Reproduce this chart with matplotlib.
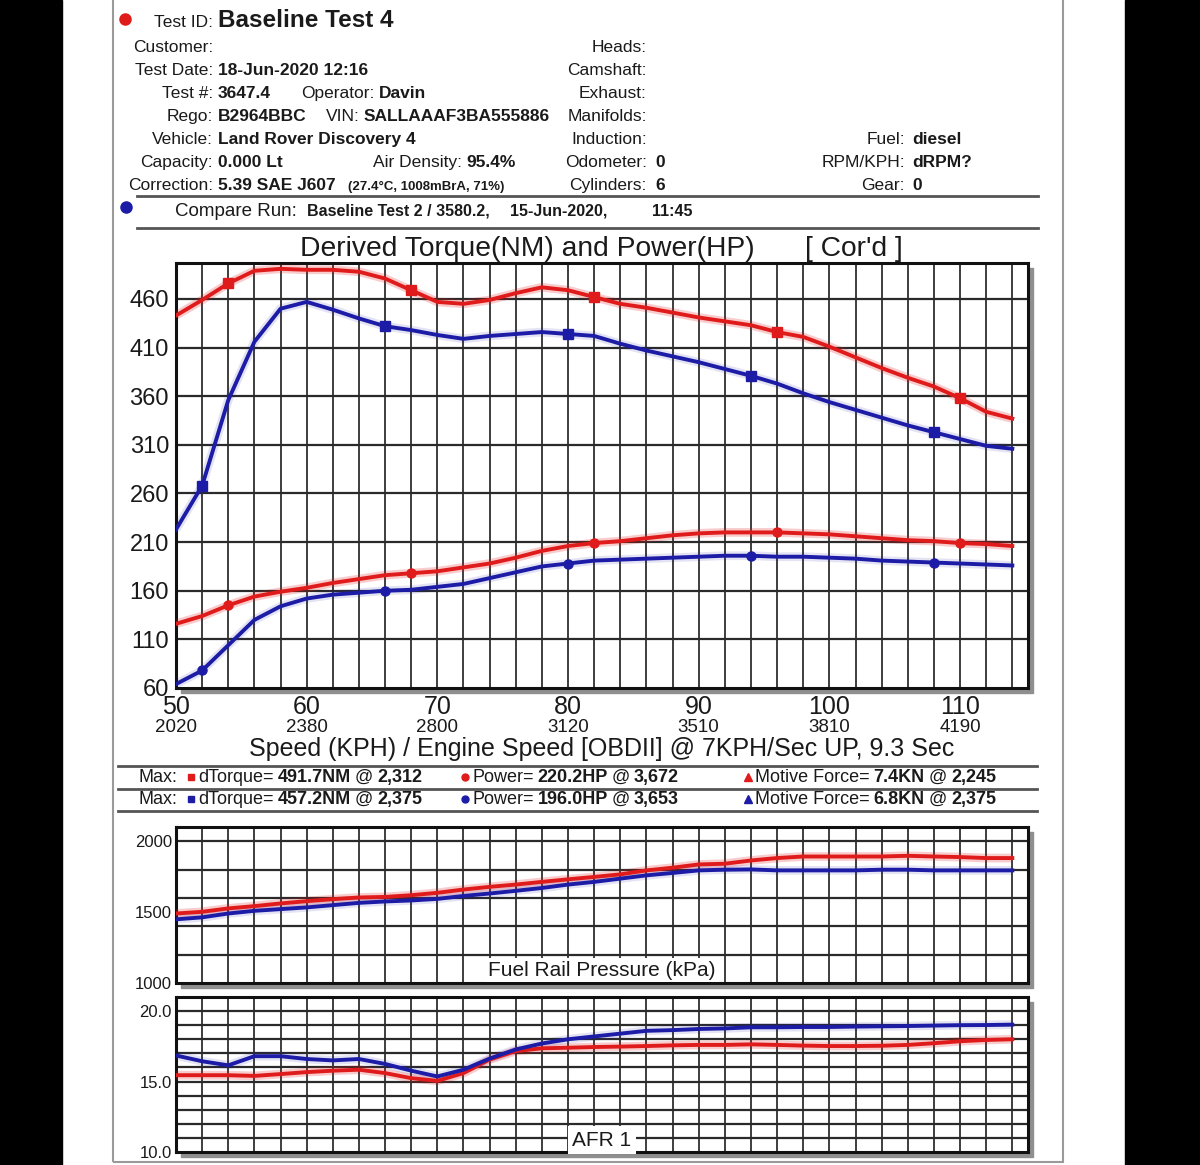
import matplotlib
matplotlib.use('Agg')
import matplotlib.pyplot as plt
from matplotlib.patches import Rectangle
from matplotlib.lines import Line2D
import numpy as np

plt.rcParams['font.family'] = ['Liberation Sans', 'DejaVu Sans']

W, H = 1200, 1165

# ---------------- data ----------------
speed = [50, 52, 54, 56, 58, 60, 62, 64, 66, 68, 70, 72, 74, 76, 78, 80, 82,
         84, 86, 88, 90, 92, 94, 96, 98, 100, 102, 104, 106, 108, 110, 112, 114]

torque_test4 = [443, 459, 476, 489, 491, 490, 490, 488, 481, 469, 457, 455, 459,
                466, 472, 469, 462, 455, 451, 446, 441, 437, 433, 426, 421, 411,
                400, 389, 379, 370, 358, 344, 337]
torque_test2 = [223, 268, 356, 416, 450, 457, 449, 440, 432, 428, 423, 419, 422,
                424, 426, 424, 422, 414, 407, 401, 395, 388, 381, 373, 363, 354,
                346, 338, 330, 323, 316, 309, 306]
power_test4 = [126, 134, 145, 154, 159, 163, 168, 172, 176, 178, 180, 184, 188,
               194, 201, 206, 209, 211, 214, 217, 219, 220, 220, 220, 219, 218,
               216, 214, 212, 211, 209, 208, 206]
power_test2 = [64, 78, 104, 130, 144, 152, 156, 158, 160, 161, 164, 167, 173,
               179, 185, 188, 191, 192, 193, 194, 195, 196, 196, 195, 195, 194,
               193, 191, 190, 189, 188, 187, 186]
frp_test4 = [1490, 1502, 1526, 1542, 1561, 1577, 1591, 1603, 1607, 1619, 1636,
             1659, 1678, 1694, 1713, 1731, 1748, 1766, 1794, 1813, 1836, 1841,
             1864, 1881, 1892, 1892, 1892, 1892, 1897, 1892, 1888, 1881, 1881]
frp_test2 = [1449, 1463, 1490, 1509, 1521, 1533, 1549, 1565, 1575, 1582, 1593,
             1614, 1631, 1650, 1670, 1694, 1713, 1736, 1759, 1776, 1794, 1799,
             1801, 1794, 1794, 1794, 1794, 1799, 1799, 1794, 1794, 1794, 1794]
afr_test4 = [15.45, 15.45, 15.45, 15.4, 15.53, 15.67, 15.77, 15.84, 15.6, 15.24,
             15.05, 15.6, 16.56, 17.16, 17.36, 17.4, 17.45, 17.48, 17.52, 17.57,
             17.6, 17.6, 17.64, 17.6, 17.55, 17.52, 17.52, 17.54, 17.6, 17.72,
             17.86, 17.95, 18.0]
afr_test2 = [16.85, 16.44, 16.15, 16.8, 16.8, 16.6, 16.5, 16.6, 16.25, 15.77,
             15.36, 15.84, 16.63, 17.28, 17.7, 18.0, 18.2, 18.4, 18.6, 18.65,
             18.73, 18.77, 18.85, 18.85, 18.87, 18.87, 18.9, 18.92, 18.94, 18.97,
             19.0, 19.01, 19.04]

speed_ticks = [50, 60, 70, 80, 90, 100, 110]
rpm_ticks = ['2020', '2380', '2800', '3120', '3510', '3810', '4190']
main_yticks = [60, 110, 160, 210, 260, 310, 360, 410, 460]
frp_yticks = [1000, 1500, 2000]
afr_yticks = [10, 15, 20]

max_test4 = ['491.7NM', '2,312', '220.2HP', '3,672', '7.4KN', '2,245']
max_test2 = ['457.2NM', '2,375', '196.0HP', '3,653', '6.8KN', '2,375']

RED = '#e01b1b'
BLUE = '#1c1ca6'
TXT = '#1a1a1a'

fig = plt.figure(figsize=(12, 11.65), dpi=100)
fig.patch.set_facecolor('white')


def fx(x):
    return x / W


def fy(y):
    return 1 - y / H


def rect(l, t, r, b):
    return [fx(l), fy(b), (r - l) / W, (b - t) / H]


def ftext(x, y, s, size=12.5, weight='normal', ha='left', color=TXT, **kw):
    return fig.text(fx(x), fy(y), s, fontsize=size, fontweight=weight, ha=ha,
                    va='baseline', color=color, **kw)


def hline(x0, x1, y, color='#555555', lw=2.0):
    fig.add_artist(Line2D([fx(x0), fx(x1)], [fy(y), fy(y)], color=color, lw=lw,
                          transform=fig.transFigure))


def dot(x, y, color, marker='o', ms=8):
    fig.add_artist(Line2D([fx(x)], [fy(y)], marker=marker, ms=ms, color=color,
                          mec=color, ls='none', transform=fig.transFigure))


# black bands and page frame
fig.patches.append(Rectangle((0, 0), fx(62), 1, transform=fig.transFigure,
                             color='black', zorder=-5))
fig.patches.append(Rectangle((fx(1125), 0), 1 - fx(1125), 1, transform=fig.transFigure,
                             color='black', zorder=-5))
fig.patches.append(Rectangle((fx(113), fy(1162)), fx(1063) - fx(113), 1.2,
                             transform=fig.transFigure, fill=False, ec='#9a9a9a',
                             lw=1.5, zorder=-4))

# ---------------- header ----------------
dot(125, 19, RED)
ftext(213, 27, 'Test ID:', ha='right')
ftext(218, 27, 'Baseline Test 4', size=17.5, weight='bold')

left_labels = ['Customer:', 'Test Date:', 'Test #:', 'Rego:', 'Vehicle:', 'Capacity:', 'Correction:']
left_values = ['', '18-Jun-2020 12:16', '3647.4', 'B2964BBC', 'Land Rover Discovery 4',
               '0.000 Lt', '5.39 SAE J607']
mid_labels = ['Heads:', 'Camshaft:', 'Exhaust:', 'Manifolds:', 'Induction:', 'Odometer:', 'Cylinders:']
mid_values = ['', '', '', '', '', '0', '6']
right_labels = ['', '', '', '', 'Fuel:', 'RPM/KPH:', 'Gear:']
right_values = ['', '', '', '', 'diesel', 'dRPM?', '0']
rows_y = [52, 75, 98, 121, 144, 167, 190]

for i, y in enumerate(rows_y):
    ftext(213, y, left_labels[i], ha='right')
    if left_values[i]:
        ftext(218, y, left_values[i], weight='bold')
    ftext(647, y, mid_labels[i], ha='right')
    if mid_values[i]:
        ftext(655, y, mid_values[i], weight='bold')
    if right_labels[i]:
        ftext(905, y, right_labels[i], ha='right')
        ftext(912, y, right_values[i], weight='bold')

ftext(375, 98, 'Operator:', ha='right')
ftext(379, 98, 'Davin', weight='bold')
ftext(360, 121, 'VIN:', ha='right')
ftext(364, 121, 'SALLAAAF3BA555886', weight='bold')
ftext(462, 167, 'Air Density:', ha='right')
ftext(466, 167, '95.4%', weight='bold')
ftext(348, 190, '(27.4°C, 1008mBrA, 71%)', size=9.5, weight='bold')

hline(137, 1038, 196)
dot(126, 207, BLUE)
ftext(297, 216, 'Compare Run:', ha='right', size=13.5)
ftext(307, 216, 'Baseline Test 2 / 3580.2,', weight='bold', size=11.5)
ftext(510, 216, '15-Jun-2020,', weight='bold', size=11.5)
ftext(652, 216, '11:45', weight='bold', size=11.5)
hline(137, 1038, 228)

ftext(300, 256, 'Derived Torque(NM) and Power(HP)', size=20.3)
ftext(805, 256, "[ Cor'd ]", size=20.3)


# ---------------- chart helpers ----------------
def shadow(l, t, r, b, off=5):
    fig.patches.append(Rectangle((fx(l + off), fy(b + off)), (r - l) / W, (b - t) / H,
                                 transform=fig.transFigure, color='#8f8f8f', zorder=-1))


def make_axes(l, t, r, b, ylim, hgrid):
    shadow(l, t, r, b)
    ax = fig.add_axes(rect(l, t, r, b))
    ax.set_facecolor('white')
    ax.set_xlim(50, 115.2)
    ax.set_ylim(*ylim)
    for s in ax.spines.values():
        s.set_linewidth(2.2)
        s.set_color('#111111')
    for xv in np.arange(52, 115, 2):
        ax.axvline(xv, color='#1e1e1e', lw=1.2, zorder=1)
    for yv in hgrid:
        ax.axhline(yv, color='#2a2a2a', lw=1.6, zorder=1)
    ax.tick_params(length=0)
    return ax


def curve(ax, y, color, marker=None, markevery=None, lw=2.8, glow=0.22):
    ax.plot(speed, y, color=color, lw=lw + 3.5, alpha=glow, zorder=3,
            solid_capstyle='butt')
    ax.plot(speed, y, color=color, lw=lw, zorder=4, marker=marker,
            markevery=markevery, ms=6.5, mec=color, mfc=color)


# ---------------- main chart ----------------
ax = make_axes(176, 263, 1028, 688, (60, 497), main_yticks[1:])
curve(ax, torque_test4, RED, 's', (2, 7))
curve(ax, power_test4, RED, 'o', (2, 7))
curve(ax, torque_test2, BLUE, 's', (1, 7), glow=0.12)
curve(ax, power_test2, BLUE, 'o', (1, 7), glow=0.12)
ax.set_yticks(main_yticks)
ax.set_yticklabels([str(v) for v in main_yticks], fontsize=17, color=TXT)
ax.tick_params(axis='y', pad=5)
ax.set_xticks(speed_ticks)
ax.set_xticklabels([str(v) for v in speed_ticks], fontsize=18, color=TXT)
ax.tick_params(axis='x', pad=5)
for s, r in zip(speed_ticks, rpm_ticks):
    ax.text(s, -40 / 425, r, transform=ax.get_xaxis_transform(), ha='center',
            va='center', fontsize=13.5, color=TXT)
ftext(602, 756, 'Speed (KPH) / Engine Speed [OBDII] @ 7KPH/Sec UP, 9.3 Sec',
      size=18, ha='center')

# ---------------- max rows ----------------
hline(118, 1037, 766)
hline(118, 1037, 789)
hline(118, 1037, 811)

renderer = fig.canvas.get_renderer()


def run(x, y, pieces, size=13):
    for txt, weight in pieces:
        t = ftext(x, y, txt, size=size, weight=weight)
        x += t.get_window_extent(renderer).width + 4


for y, vals, col in [(782, max_test4, RED), (804, max_test2, BLUE)]:
    ftext(138, y, 'Max:', size=13)
    dot(191, y - 5, col, 's', 5)
    run(198, y, [('dTorque=', 'normal'), (vals[0], 'bold'), ('@', 'normal'), (vals[1], 'bold')])
    dot(465, y - 5, col, 'o', 5)
    run(472, y, [('Power=', 'normal'), (vals[2], 'bold'), ('@', 'normal'), (vals[3], 'bold')])
    dot(748, y - 5, col, '^', 6)
    run(755, y, [('Motive Force=', 'normal'), (vals[4], 'bold'), ('@', 'normal'), (vals[5], 'bold')])

# ---------------- fuel rail pressure ----------------
ax2 = make_axes(176, 827, 1028, 983, (1000, 2100), [1200, 1400, 1600, 1800, 2000])
curve(ax2, frp_test4, RED)
curve(ax2, frp_test2, BLUE, glow=0.12)
ax2.set_xticks([])
ax2.set_yticks(frp_yticks)
ax2.set_yticklabels([str(v) for v in frp_yticks], fontsize=12, color=TXT)
ax2.tick_params(axis='y', pad=3)
ax2.text(0.5, 13 / 156, 'Fuel Rail Pressure (kPa)', transform=ax2.transAxes,
         ha='center', va='center', fontsize=15, color=TXT, zorder=6,
         bbox=dict(fc='white', ec='none', pad=2))

# ---------------- AFR ----------------
ax3 = make_axes(176, 997, 1028, 1152, (10, 21), list(range(11, 21)))
curve(ax3, afr_test4, RED)
curve(ax3, afr_test2, BLUE, glow=0.12)
ax3.set_xticks([])
ax3.set_yticks(afr_yticks)
ax3.set_yticklabels(['%.1f' % v for v in afr_yticks], fontsize=12, color=TXT)
ax3.tick_params(axis='y', pad=3)
ax3.text(0.5, 12 / 155, 'AFR 1', transform=ax3.transAxes,
         ha='center', va='center', fontsize=15, color=TXT, zorder=6,
         bbox=dict(fc='white', ec='none', pad=3))

fig.savefig('out.png', dpi=100, facecolor='white')
